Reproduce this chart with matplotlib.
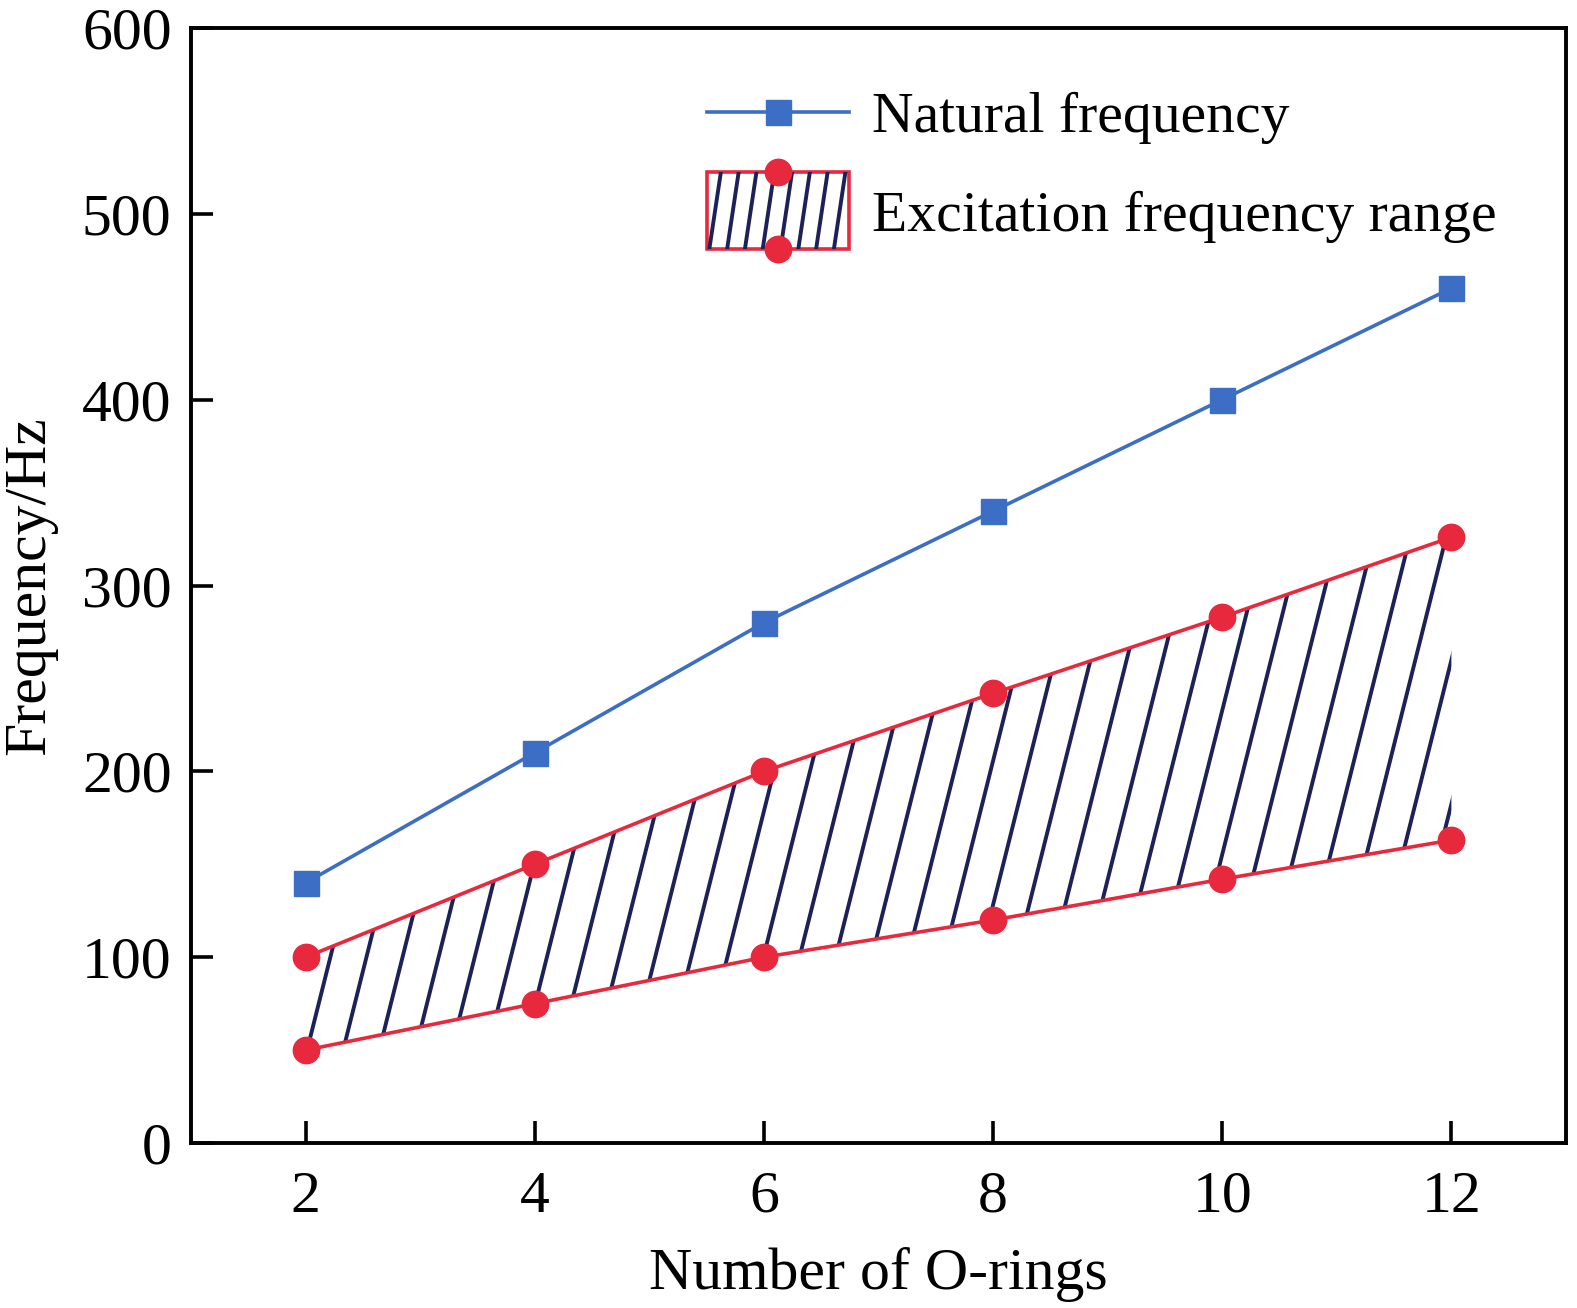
import numpy as np
import matplotlib
matplotlib.use("Agg")
import matplotlib.pyplot as plt
from matplotlib.collections import LineCollection
from matplotlib.legend_handler import HandlerBase
from matplotlib.patches import Rectangle, Polygon
from matplotlib.lines import Line2D

# ---- data ----
o_rings = [2, 4, 6, 8, 10, 12]
natural_freq = [140, 210, 280, 340, 400, 460]
excit_upper = [100, 150, 200, 242, 283, 326]
excit_lower = [50, 75, 100, 120, 142, 163]
x_ticks = [2, 4, 6, 8, 10, 12]
y_ticks = [0, 100, 200, 300, 400, 500, 600]

BLUE = "#3b6ec4"
RED = "#e8283c"
NAVY = "#1c2158"

plt.rcParams["font.family"] = ["Liberation Serif", "DejaVu Serif"]

fig = plt.figure(figsize=(15.77, 13.08), dpi=100)
ax = fig.add_axes([0.1211, 0.1261, 0.993 - 0.1211, 0.9786 - 0.1261])

ax.set_xlim(1, 13)
ax.set_ylim(0, 600)

# hatched region (custom steep hatch, clipped to the band)
poly_xy = np.column_stack([o_rings + o_rings[::-1], excit_lower + excit_upper[::-1]])
band = Polygon(poly_xy, closed=True, facecolor="none", edgecolor="none")
ax.add_patch(band)
px_per_x = (1450 - 307) / 10.0
px_per_y = (1143 - 28) / 600.0
ratio = 0.25  # horizontal px per vertical px
slope = ratio * px_per_y / px_per_x  # data-x per data-y
spacing = 36.0 / px_per_x
segs = []
x0 = 2.0 - 1.45
while x0 < 13:
    segs.append([(x0, 0), (x0 + slope * 600, 600)])
    x0 += spacing
lc = LineCollection(segs, colors=NAVY, linewidths=2.8, zorder=2)
ax.add_collection(lc)
lc.set_clip_path(band)

ax.plot(o_rings, excit_upper, color=RED, lw=2.6, marker="o", ms=19, zorder=3)
ax.plot(o_rings, excit_lower, color=RED, lw=2.6, marker="o", ms=19, zorder=3)
ax.plot(o_rings, natural_freq, color=BLUE, lw=2.6, marker="s", ms=18, zorder=3)

ax.set_xticks(x_ticks)
ax.set_yticks(y_ticks)
ax.tick_params(direction="in", length=16, width=2.6, labelsize=43)
ax.tick_params(axis="x", pad=20)
ax.tick_params(axis="y", pad=14)
for s in ax.spines.values():
    s.set_linewidth(2.8)
ax.set_xlabel("Number of O-rings", fontsize=43, labelpad=16)
ax.set_ylabel("Frequency/Hz", fontsize=43, labelpad=18)


class ExcHandler(HandlerBase):
    def create_artists(self, legend, orig_handle, xdescent, ydescent, width, height, fontsize, trans):
        h = height * 1.5
        y0 = -ydescent + height / 2 - h / 2
        x0 = -xdescent
        rect = Rectangle((x0, y0), width, h, facecolor="white", edgecolor=RED, lw=2.6, transform=trans)
        arts = [rect]
        n = 8
        for i in range(n):
            xs = x0 + (i + 0.15) * width / n
            l = Line2D([xs, xs + 0.15 * h], [y0, y0 + h], color=NAVY, lw=2.8, transform=trans)
            l.set_clip_path(rect)
            arts.append(l)
        for yy in (y0 + h, y0):
            m = Line2D([x0 + width / 2], [yy], marker="o", ms=19, color=RED, ls="none", transform=trans)
            arts.append(m)
        return arts


class NatHandler(HandlerBase):
    def create_artists(self, legend, orig_handle, xdescent, ydescent, width, height, fontsize, trans):
        yc = -ydescent + height / 2
        l = Line2D([-xdescent, -xdescent + width], [yc, yc], color=BLUE, lw=2.6, transform=trans)
        m = Line2D([-xdescent + width / 2], [yc], marker="s", ms=18, color=BLUE, ls="none", transform=trans)
        return [l, m]


class NatKey:
    pass


class ExcKey:
    pass


leg = ax.legend([NatKey(), ExcKey()], ["Natural frequency", "Excitation frequency range"],
                handler_map={NatKey: NatHandler(), ExcKey: ExcHandler()},
                loc="upper left", bbox_to_anchor=(0.375, 0.948), frameon=False,
                fontsize=41.5, handlelength=2.47, handleheight=1.0, labelspacing=0.72,
                handletextpad=0.4, borderpad=0, borderaxespad=0)

fig.savefig("out.png", dpi=100)
